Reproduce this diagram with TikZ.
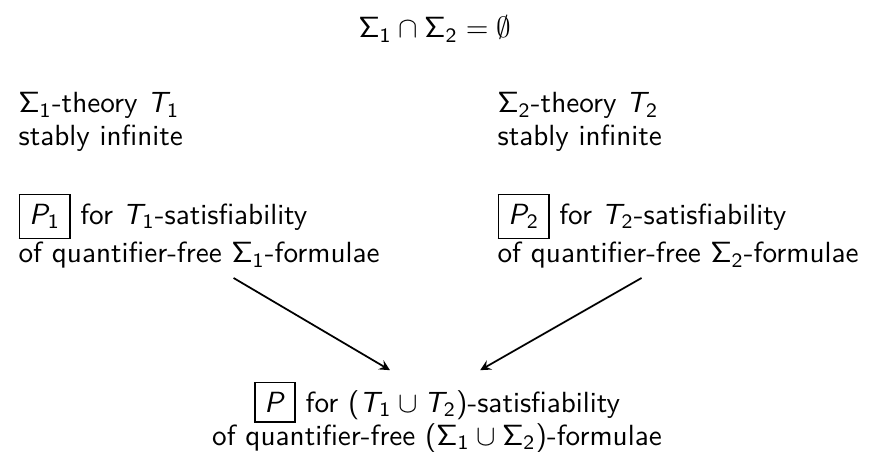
\documentclass[tikz,border=0pt]{standalone}
\renewcommand{\familydefault}{\sfdefault}
\usetikzlibrary{arrows.meta}

% sans serif math, as on slides
\DeclareSymbolFont{sfops}{OT1}{cmss}{m}{n}
\DeclareSymbolFont{sflet}{OT1}{cmss}{m}{sl}
\DeclareMathSymbol{\sSigma}{\mathalpha}{sfops}{"06}
\DeclareMathSymbol{T}{\mathalpha}{sflet}{`T}
\DeclareMathSymbol{P}{\mathalpha}{sflet}{`P}
\DeclareMathSymbol{1}{\mathord}{sfops}{`1}
\DeclareMathSymbol{2}{\mathord}{sfops}{`2}
\DeclareMathSymbol{(}{\mathopen}{sfops}{"28}
\DeclareMathSymbol{)}{\mathclose}{sfops}{"29}
\setlength{\fboxrule}{0.6pt}

\begin{document}
\begin{tikzpicture}[>=stealth, font=\fontsize{10}{11.2}\selectfont,
    txt/.style={inner sep=0pt, align=left, anchor=north west}]
    \useasboundingbox (0,0) rectangle (10.523,5.442);

    % Disjoint signatures
    \node[anchor=base, inner sep=0pt] (sig) at (5.237,4.985) {$\sSigma_1 \cap \sSigma_2 = \emptyset$};

    % Theories
    \node[txt] (th1) at (0.217,4.334) {$\sSigma_1$-theory $T_1$\\stably infinite};
    \node[txt] (th2) at (5.984,4.334) {$\sSigma_2$-theory $T_2$\\stably infinite};

    % Decision procedures
    \node[txt] (p1) at (0.217,3.118) {\fbox{$P_1$} for $T_1$-satisfiability\\of quantifier-free $\sSigma_1$-formulae};
    \node[txt] (p2) at (5.984,3.118) {\fbox{$P_2$} for $T_2$-satisfiability\\of quantifier-free $\sSigma_2$-formulae};

    % Combined procedure
    \node[inner sep=0pt, align=center, anchor=north] (p) at (5.261,0.855)
        {\fbox{$P$} for $(T_1 \cup T_2)$-satisfiability\\of quantifier-free $(\sSigma_1 \cup \sSigma_2)$-formulae};

    % Arrows
    \draw[->,semithick] ([xshift=0.415cm,yshift=-0.108cm]p1.south) -- ([xshift=-0.566cm,yshift=0.13cm]p.north);
    \draw[->,semithick] ([xshift=-0.44cm,yshift=-0.108cm]p2.south) -- ([xshift=0.52cm,yshift=0.13cm]p.north);
\end{tikzpicture}
\end{document}
